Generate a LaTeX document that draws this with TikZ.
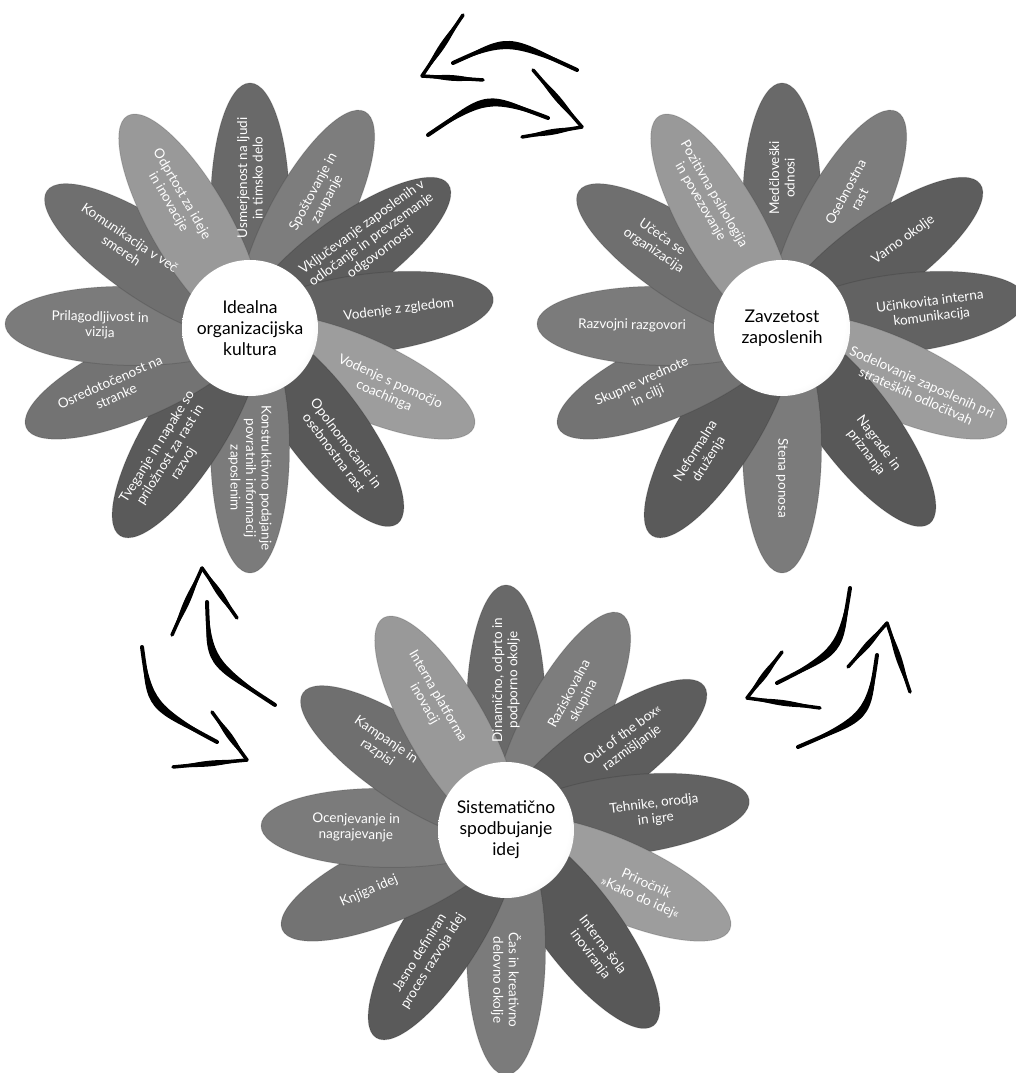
\documentclass[tikz,border=0pt]{standalone}
\usepackage{fontspec}
\setmainfont{Lato}
\usetikzlibrary{calc,shapes.geometric}
\pgfdeclareradialshading{ballhub}{\pgfpoint{-4bp}{4bp}}{color(0bp)=(white); color(25bp)=(white); color(38bp)=(black!11); color(50bp)=(black!46)}
\def\petalangles{{90,62,36,7,-24,-53,-90,-122,-156,179,146,120}}
\def\petalgrays{{105,125,93,98,157,88,123,90,115,123,111,153}}
% brush stroke: #1 start, #2 control, #3 end, #4 half bulge, #5 base width
\newcommand\brush[5]{%
  \draw[line width=#5, line cap=round] #1 .. controls #2 .. #3;
  \fill #1 .. controls ($#2+($#1!#4!90:#3$)-#1$) .. #3
        .. controls ($#2+($#1!#4!-90:#3$)-#1$) .. #1;}
\newcommand\flower[4]{%
  \coordinate (#1c) at #2;
  \foreach \ptxt [count=\pi] in {#4}{%
    \pgfmathsetmacro\pa{\petalangles[\pi-1]}%
    \pgfmathtruncatemacro\pg{\petalgrays[\pi-1]}%
    \definecolor{pcur}{RGB}{\pg,\pg,\pg}%
    \node[petal, fill=pcur, rotate=\pa] (#1p\pi) at ($(#1c)+(\pa:120)$) {};
  }
  \foreach \ptxt [count=\pi] in {#4}{%
    \pgfmathsetmacro\pa{\petalangles[\pi-1]}%
    \pgfmathsetmacro\pr{\pa>90 ? \pa-180 : (\pa<-90 ? \pa+180 : \pa)}%
    \node[ptext, rotate=\pr] (#1t\pi) at ($(#1c)+(\pa:150)$) {\ptxt};
  }
  \node[hub] (#1) at (#1c) {#3};
}
\tikzset{
  petal/.style={ellipse, inner sep=0pt, minimum width=250pt, minimum height=79pt, draw=black, draw opacity=0.12, line width=1pt},
  ptext/.style={text=white, align=center, font=\fontsize{13.5}{15.5}\selectfont, inner sep=0pt},
  hub/.style={circle, minimum size=136pt, inner sep=0pt, shade, shading=ballhub, align=center, font=\fontsize{17.5}{21}\selectfont, text=black}
}
\begin{document}
\begin{tikzpicture}[x=1pt,y=1pt]
\clip (0,0) rectangle (1016,1073);
\fill[white] (0,0) rectangle (1016,1073);

\flower{fa}{(250,745)}{Idealna\\organizacijska\\kultura}{
  {Usmerjenost na ljudi\\in timsko delo},
  {Spoštovanje in\\zaupanje},
  {Vključevanje zaposlenih v\\odločanje in prevzemanje\\odgovornosti},
  {Vodenje z zgledom},
  {Vodenje s pomočjo\\coachinga},
  {Opolnomočanje in\\osebnostna rast},
  {Konstruktivno podajanje\\povratnih informacij\\zaposlenim},
  {Tveganje in napake so\\priložnost za rast in\\razvoj},
  {Osredotočenost na\\stranke},
  {Prilagodljivost in\\vizija},
  {Komunikacija v več\\smereh},
  {Odprtost za ideje\\in inovacije}}

\flower{fb}{(782,745)}{Zavzetost\\zaposlenih}{
  {Medčloveški\\odnosi},
  {Osebnostna\\rast},
  {Varno okolje},
  {Učinkovita interna\\komunikacija},
  {Sodelovanje zaposlenih pri\\strateških odločitvah},
  {Nagrade in\\priznanja},
  {Stena ponosa},
  {Neformalna\\druženja},
  {Skupne vrednote\\in cilji},
  {Razvojni razgovori},
  {Učeča se\\organizacija},
  {Pozitivna psihologija\\in povezovanje}}

\flower{fc}{(506,243)}{Sistematično\\spodbujanje\\idej}{
  {Dinamično, odprto in\\podporno okolje},
  {Raziskovalna\\skupina},
  {Out of the box«\\razmišljanje},
  {Tehnike, orodja\\in igre},
  {Priročnik\\»Kako do idej«},
  {Interna šola\\inoviranja},
  {Čas in kreativno\\delovno okolje},
  {Jasno definiran\\proces razvoja idej},
  {Knjiga idej},
  {Ocenjevanje in\\nagrajevanje},
  {Kampanje in\\razpisi},
  {Interna platforma\\inovacij}}

\begin{scope}[shift={(0,1073)}, yscale=-1]
% top pair
\brush{(577,70)}{(508,38)}{(453,63)}{5.5pt}{4pt}
\brush{(463,15)}{(442.5,45.5)}{(422,76)}{3.8pt}{3.5pt}
\brush{(422,76)}{(452.5,78)}{(483,80)}{3.8pt}{3.5pt}
\brush{(428,135)}{(487,95)}{(548,118)}{5.5pt}{4pt}
\brush{(533,70)}{(557.5,98.5)}{(582,127)}{3.8pt}{3.5pt}
\brush{(522,137)}{(552,132)}{(582,127)}{3.8pt}{3.5pt}
% left pair
\brush{(275,705)}{(209,662)}{(207,602)}{5.5pt}{4pt}
\brush{(172,635)}{(187,601.5)}{(202,568)}{3.8pt}{3.5pt}
\brush{(202,568)}{(219.5,593)}{(237,618)}{3.8pt}{3.5pt}
\brush{(142,647)}{(150,706)}{(217,742)}{5.5pt}{4pt}
\brush{(212,712)}{(229.5,736)}{(247,760)}{3.8pt}{3.5pt}
\brush{(173,767)}{(210,763.5)}{(247,760)}{3.8pt}{3.5pt}
% right pair
\brush{(850,588)}{(840,651)}{(777,683)}{5.5pt}{4pt}
\brush{(782,652)}{(764.5,675)}{(747,698)}{3.8pt}{3.5pt}
\brush{(747,698)}{(783.5,703)}{(820,708)}{3.8pt}{3.5pt}
\brush{(798,747)}{(868,717)}{(877,655)}{5.5pt}{4pt}
\brush{(848,667)}{(867.5,645)}{(887,623)}{3.8pt}{3.5pt}
\brush{(887,623)}{(898.5,657.5)}{(910,692)}{3.8pt}{3.5pt}
\end{scope}
\end{tikzpicture}
\end{document}
